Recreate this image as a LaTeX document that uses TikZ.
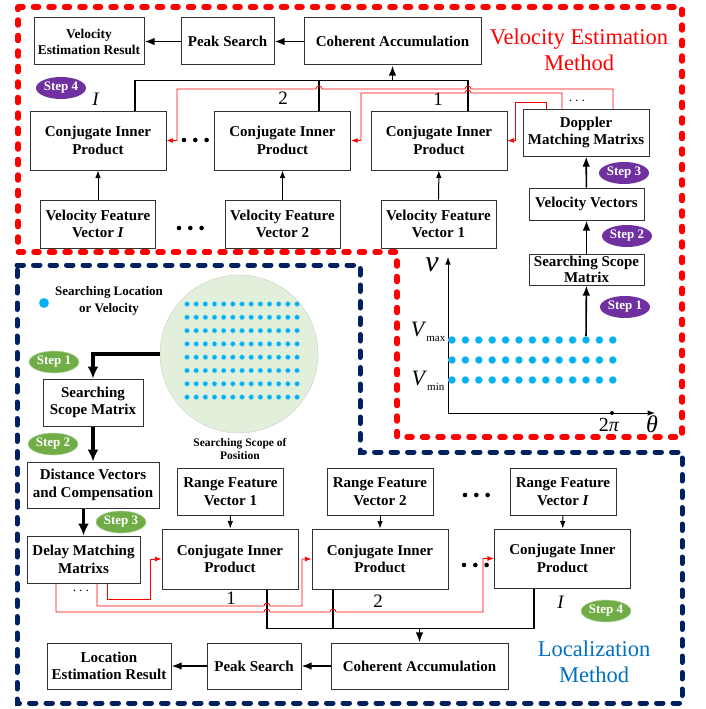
\documentclass[tikz,border=0pt]{standalone}
\usepackage{fontspec}
\setmainfont{Liberation Serif}
\usepackage{tikz}
\usetikzlibrary{calc,shapes.geometric,arrows,arrows.meta,positioning}
\definecolor{myred}{RGB}{255,0,0}
\definecolor{mynavy}{RGB}{0,32,96}
\definecolor{mypurple}{RGB}{112,48,160}
\definecolor{mygreen}{RGB}{112,173,71}
\definecolor{mycyan}{RGB}{0,176,240}
\definecolor{myblue}{RGB}{0,112,192}
\definecolor{mypale}{RGB}{226,239,218}
\tikzstyle{box}=[draw=black!80,line width=1pt,fill=white,align=center,inner sep=1pt,font=\bfseries\fontsize{15}{17.5}\selectfont]
\tikzstyle{cip}=[box,minimum width=136pt,minimum height=59pt]
\tikzstyle{feat}=[box,minimum width=115pt,minimum height=48pt]
\tikzstyle{rfeat}=[box,minimum width=106pt,minimum height=47pt]
\tikzstyle{stepP}=[ellipse,fill=mypurple,text=white,minimum width=50pt,minimum height=22pt,inner sep=0pt,font=\bfseries\fontsize{13}{13}\selectfont]
\tikzstyle{stepG}=[stepP,fill=mygreen,draw=mygreen!50,line width=0.6pt]
\tikzstyle{spot}=[circle,fill=mycyan,draw=mycyan!45,line width=0.4pt,inner sep=0pt]
\tikzstyle{num}=[font=\fontsize{19}{19}\selectfont]
\tikzstyle{arr}=[line width=1pt,->]
\tikzstyle{link}=[line width=1.6pt,->]
\tikzstyle{vthick}=[line width=3.5pt,-{Latex[length=12pt,width=11pt]}]
\tikzstyle{redlink}=[myred,line width=0.8pt,->]
\tikzstyle{redframe}=[myred,line width=5.5pt,line cap=round,dash pattern=on 5pt off 10.5pt]
\tikzstyle{navyframe}=[mynavy,line width=5pt,line cap=round,dash pattern=on 6.5pt off 10pt]

\begin{document}
\begin{tikzpicture}[x=1pt,y=-1pt,>=Latex]
\useasboundingbox (0,0) rectangle (705,709);
\draw[navyframe] (17,265) -- (360,265) -- (360,452) -- (682,452) -- (682,703) -- (17,703) -- cycle;
\draw[redframe] (18,7) -- (682,7) -- (682,437) -- (397,437) -- (397,252) -- (18,252) -- cycle;

\node[box,minimum width=177pt,minimum height=47pt] (vcoh) at (392.5,41.5) {Coherent Accumulation};
\node[box,minimum width=93pt,minimum height=47pt,left=29pt of vcoh] (vpeak) {Peak Search};
\node[box,minimum width=110pt,minimum height=47pt,left=36pt of vpeak,font=\bfseries\fontsize{13.4}{16}\selectfont] (vres) {Velocity\\Estimation Result};
\node[text=myred,align=center,font=\fontsize{22.5}{26}\selectfont] (vtitle) at (579,50) {Velocity Estimation\\Method};
\node[cip] (vcipI) at (98,140.5) {Conjugate Inner\\Product};
\node[cip] (vcip2) at (282.5,140.5) {Conjugate Inner\\Product};
\node[cip] (vcip1) at (439,140.5) {Conjugate Inner\\Product};
\node[box,minimum width=126pt,minimum height=47pt] (vdmm) at (586,132.5) {Doppler\\Matching Matrixs};
\node[feat] (vfvI) at (98,224) {Velocity Feature\\Vector \textit{I}};
\node[feat] (vfv2) at (282.5,224) {Velocity Feature\\Vector 2};
\node[feat] (vfv1) at (438.5,224) {Velocity Feature\\Vector 1};
\node[box,minimum width=115pt,minimum height=32pt] (vvec) at (586.5,204) {Velocity Vectors};
\node[box,minimum width=115pt,minimum height=31pt,inner sep=0pt,font=\bfseries\fontsize{15}{16}\selectfont] (vssm) at (586.5,269.5) {Searching Scope\\Matrix};
\node[stepP] (vs4) at (61,88) {Step 4};
\node[stepP] (vs3) at (624,173) {Step 3};
\node[stepP] (vs2) at (627,236) {Step 2};
\node[stepP] (vs1) at (625,307) {Step 1};
\node[num] (vlI) at (96,99) {\textit{I}};
\node[num] (vl2) at (283,98) {2};
\node[num] (vl1) at (438,99) {1};
\node[font=\fontsize{14}{14}\selectfont] (vmore) at (577,101) {$\cdots$};
\foreach \i in {0,1,2} \fill (184+11.3*\i,140) circle (2.3);
\foreach \i in {0,1,2} \fill (179+11.3*\i,228) circle (2.3);

\draw[link] (vcoh) -- (vpeak);
\draw[link] (vpeak) -- (vres);
\draw[line width=1.6pt] ([xshift=37pt]vcipI.north) -- ++(0,-30) -| ([xshift=29pt]vcip1.north);
\draw[line width=1.6pt] ([xshift=36.5pt]vcip2.north) -- ++(0,-30);
\coordinate (vsum) at (392.5,81);
\draw[link] (vsum) -- (vcoh);
\draw[arr] (vfvI) -- (vcipI);
\draw[arr] (vfv2) -- (vcip2);
\draw[arr] (vfv1) -- (vcip1);
\draw[link] (vssm) -- (vvec);
\draw[link] (vvec) -- (vdmm);
\draw[redlink] ([xshift=27pt]vdmm.north) |- (471,89) arc[start angle=0,end angle=-180,radius=3] -- (322,89) arc[start angle=0,end angle=-180,radius=3] -- (177,89) |- (vcipI.east);
\draw[redlink] ([xshift=-24pt]vdmm.north) |- (471,93) arc[start angle=0,end angle=-180,radius=3] -- (361,93) |- (vcip2.east);
\draw[redlink] ([xshift=-40pt]vdmm.north) |- (515,102) |- (vcip1.east);

\coordinate (o) at (448,413);
\draw[arr] (o) -- (448,257);
\draw[arr] (o) -- (655,413);
\foreach \r/\y in {1/340,2/360,3/380}
  \foreach \c in {0,...,12}
    \node[spot,minimum size=7.5pt] (p-\r-\c) at (452+13.4*\c,\y) {};
\fill (612,413) circle (2);
\node[font=\fontsize{30}{30}\selectfont] (vaxis) at (432,265) {\textit{v}};
\node[font=\fontsize{22}{22}\selectfont] (vmax) at (428,332) {\textit{V}\raisebox{-5pt}{\fontsize{11}{11}\selectfont max}};
\node[font=\fontsize{22}{22}\selectfont] (vmin) at (428,381) {\textit{V}\raisebox{-5pt}{\fontsize{11}{11}\selectfont min}};
\node[font=\fontsize{20}{20}\selectfont] (twopi) at (609,425) {2\textit{π}};
\node[font=\fontsize{24}{24}\selectfont] (theta) at (652,424) {\textit{θ}};
\draw[link] (p-1-10) -- (vssm);

\node[spot,minimum size=10pt] (ldot) at (44,303) {};
\node[font=\bfseries\fontsize{13}{17}\selectfont,align=center] (llegend) at (109,301) {Searching Location\\or Velocity};
\node[circle,draw=black!20,fill=mypale,minimum size=158pt,inner sep=0pt] (scope) at (239,354) {};
\foreach \r in {0,...,7}
  \foreach \c in {0,...,12}
    \node[spot,minimum size=5pt] (s-\r-\c) at (187+9.17*\c,304+13.3*\r) {};
\node[font=\bfseries\fontsize{11.5}{13}\selectfont,align=center] (scopecap) at (240,449) {Searching Scope of\\Position};
\node[stepG] (ls1) at (54,362) {Step 1};
\node[box,minimum width=100pt,minimum height=47pt] (lssm) at (93,402.5) {Searching\\Scope Matrix};
\node[stepG] (ls2) at (53,444) {Step 2};
\node[box,minimum width=132pt,minimum height=46pt] (ldvc) at (93,485) {Distance Vectors\\and Compensation};
\node[stepG] (ls3) at (121,522) {Step 3};
\node[box,minimum width=113pt,minimum height=47pt] (ldmm) at (83.5,559.5) {Delay Matching\\Matrixs};
\node[rfeat] (lrfv1) at (230.5,491.5) {Range Feature\\Vector 1};
\node[rfeat] (lrfv2) at (380,491.5) {Range Feature\\Vector 2};
\node[rfeat] (lrfvI) at (563,491.5) {Range Feature\\Vector \textit{I}};
\node[cip,minimum height=60pt] (lcip1) at (230,559) {Conjugate Inner\\Product};
\node[cip,minimum height=60pt] (lcip2) at (380,559) {Conjugate Inner\\Product};
\node[cip] (lcipI) at (562.5,558.5) {Conjugate Inner\\Product};
\node[box,minimum width=177pt,minimum height=46pt] (lcoh) at (419.5,666) {Coherent Accumulation};
\node[box,minimum width=94pt,minimum height=46pt,left=29pt of lcoh] (lpeak) {Peak Search};
\node[box,minimum width=124pt,minimum height=46pt,left=35pt of lpeak] (lres) {Location\\Estimation Result};
\node[stepG] (ls4) at (606,611) {Step 4};
\node[text=myblue,align=center,font=\fontsize{22.5}{26}\selectfont] (ltitle) at (594,662) {Localization\\Method};
\node[num] (ll1) at (231,598) {1};
\node[num] (ll2) at (378,601) {2};
\node[num] (llI) at (561,602) {\textit{I}};
\node[font=\fontsize{14}{14}\selectfont] (lmore) at (81,591) {$\cdots$};
\foreach \i in {0,1,2} \fill (465+11.3*\i,495) circle (2.3);
\foreach \i in {0,1,2} \fill (464+11.3*\i,565) circle (2.3);

\draw[vthick] (scope.west) -| (lssm);
\draw[vthick] (lssm) -- (ldvc);
\draw[vthick] (ldvc.south -| ldmm) -- (ldmm);
\draw[arr] (lrfv1) -- (lcip1);
\draw[arr] (lrfv2) -- (lcip2);
\draw[arr] (lrfvI) -- (lcipI);
\draw[line width=1.6pt] ([xshift=37pt]lcip1.south) -- ++(0,39) -| ([xshift=-28.5pt]lcipI.south);
\draw[line width=1.6pt] ([xshift=-47pt]lcip2.south) -- ++(0,39);
\coordinate (lsum) at (419.5,628);
\draw[link] (lsum) -- (lcoh);
\draw[link] (lcoh) -- (lpeak);
\draw[link] (lpeak) -- (lres);
\draw[redlink] ([xshift=23.5pt]ldmm.south) |- (150,599) |- (lcip1.west);
\draw[redlink] ([xshift=13.5pt]ldmm.south) |- (264,606) arc[start angle=180,end angle=360,radius=3] -- (302,606) |- (lcip2.west);
\draw[redlink] ([xshift=-27.5pt]ldmm.south) |- (264,612) arc[start angle=180,end angle=360,radius=3] -- (330,612) arc[start angle=180,end angle=360,radius=3] -- (483,612) |- (lcipI.west);
\end{tikzpicture}
\end{document}
